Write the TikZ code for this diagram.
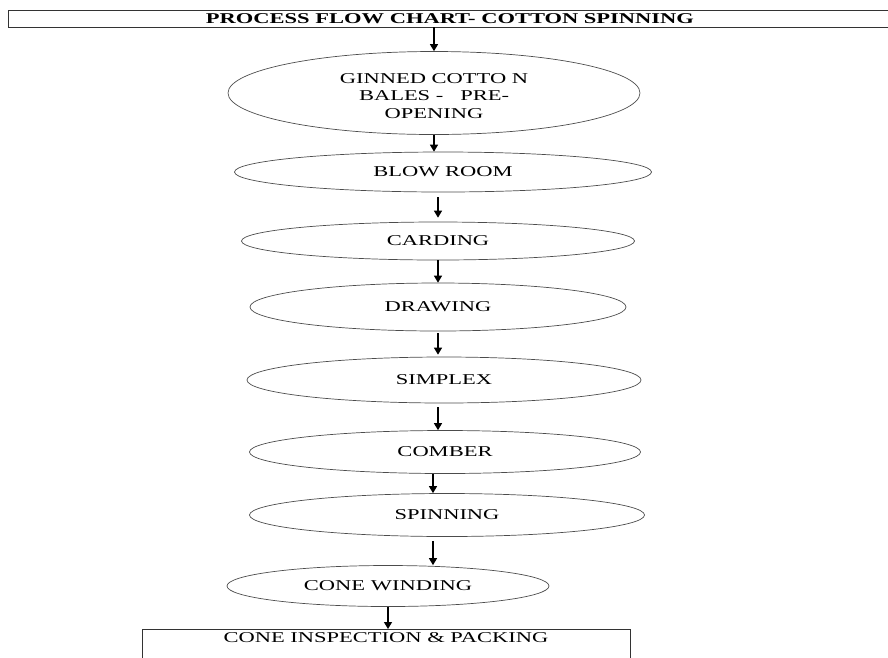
\documentclass[tikz,border=0pt]{standalone}
\usepackage{fontspec}
\setmainfont{Liberation Serif}
\usetikzlibrary{shapes.geometric,arrows.meta}
\newcommand{\wide}[1]{\scalebox{1.5}[1]{#1}}
\begin{document}
\begin{tikzpicture}[x=1pt,y=-1pt,
  every node/.style={font=\fontsize{15}{17.5}\selectfont, text=black},
  stage/.style={ellipse, draw=black!70, line width=0.7pt, inner sep=0pt},
  frame/.style={rectangle, draw=black!80, line width=0.8pt},
  arr/.style={draw=black, line width=1.3pt, -{Triangle[width=8pt,length=7pt]}}]
\useasboundingbox (0,0) rectangle (888,657);
\clip (0,0) rectangle (888,657);

% heading bar
\node[frame, minimum width=884pt, minimum height=17pt, inner sep=0pt] (title) at (450,18.5)
  {\wide{\bfseries PROCESS FLOW CHART- COTTON SPINNING}};

% process stages
\node[stage, minimum width=412pt, minimum height=83pt] (n1) at (434,93)
  {\raisebox{-4pt}[\height][\depth]{\wide{\begin{tabular}{@{}c@{}}GINNED COTTO N\\BALES -\ \ \ PRE-\\OPENING\end{tabular}}}};
\node[stage, minimum width=417pt, minimum height=40pt] (n2) at (443,172) {\wide{BLOW ROOM}};
\node[stage, minimum width=393pt, minimum height=38pt] (n3) at (438,241) {\wide{CARDING}};
\node[stage, minimum width=376pt, minimum height=48pt] (n4) at (438,307) {\wide{DRAWING}};
\node[stage, minimum width=394pt, minimum height=46pt] (n5) at (444,380) {\wide{SIMPLEX}};
\node[stage, minimum width=391pt, minimum height=43pt] (n6) at (445,452) {\wide{COMBER}};
\node[stage, minimum width=395pt, minimum height=43pt] (n7) at (447,515) {\wide{SPINNING}};
\node[stage, minimum width=322pt, minimum height=41pt] (n8) at (388,586) {\wide{CONE WINDING}};

% final packing box (runs past the lower edge)
\node[frame, anchor=north, minimum width=488pt, inner xsep=0pt, inner ysep=2pt,
      text height=11pt, text depth=45pt] (pack) at (386,629)
  {\wide{CONE INSPECTION \& PACKING}};

% flow arrows
\draw[arr] (n1.north |- title.south) -- (n1.north);
\draw[arr] (n1.south) -- (n1.south |- n2.north);
\draw[arr] ([yshift=-5pt]n3.north |- n2.south) -- ([yshift=4pt]n3.north);
\draw[arr] (n3.south) -- (n3.south |- n4.north);
\draw[arr] ([yshift=-2pt]n4.south) -- ([yshift=2pt]n4.south |- n5.north);
\draw[arr] ([xshift=-6pt,yshift=-4pt]n5.south) -- ([xshift=-6pt]n5.south |- n6.north);
\draw[arr] ([xshift=-12pt]n6.south) -- ([xshift=-12pt]n6.south |- n7.north);
\draw[arr] ([xshift=-14pt,yshift=-4pt]n7.south) -- ([xshift=-14pt]n7.south |- n8.north);
\draw[arr] (n8.south) -- (n8.south |- pack.north);
\end{tikzpicture}
\end{document}
